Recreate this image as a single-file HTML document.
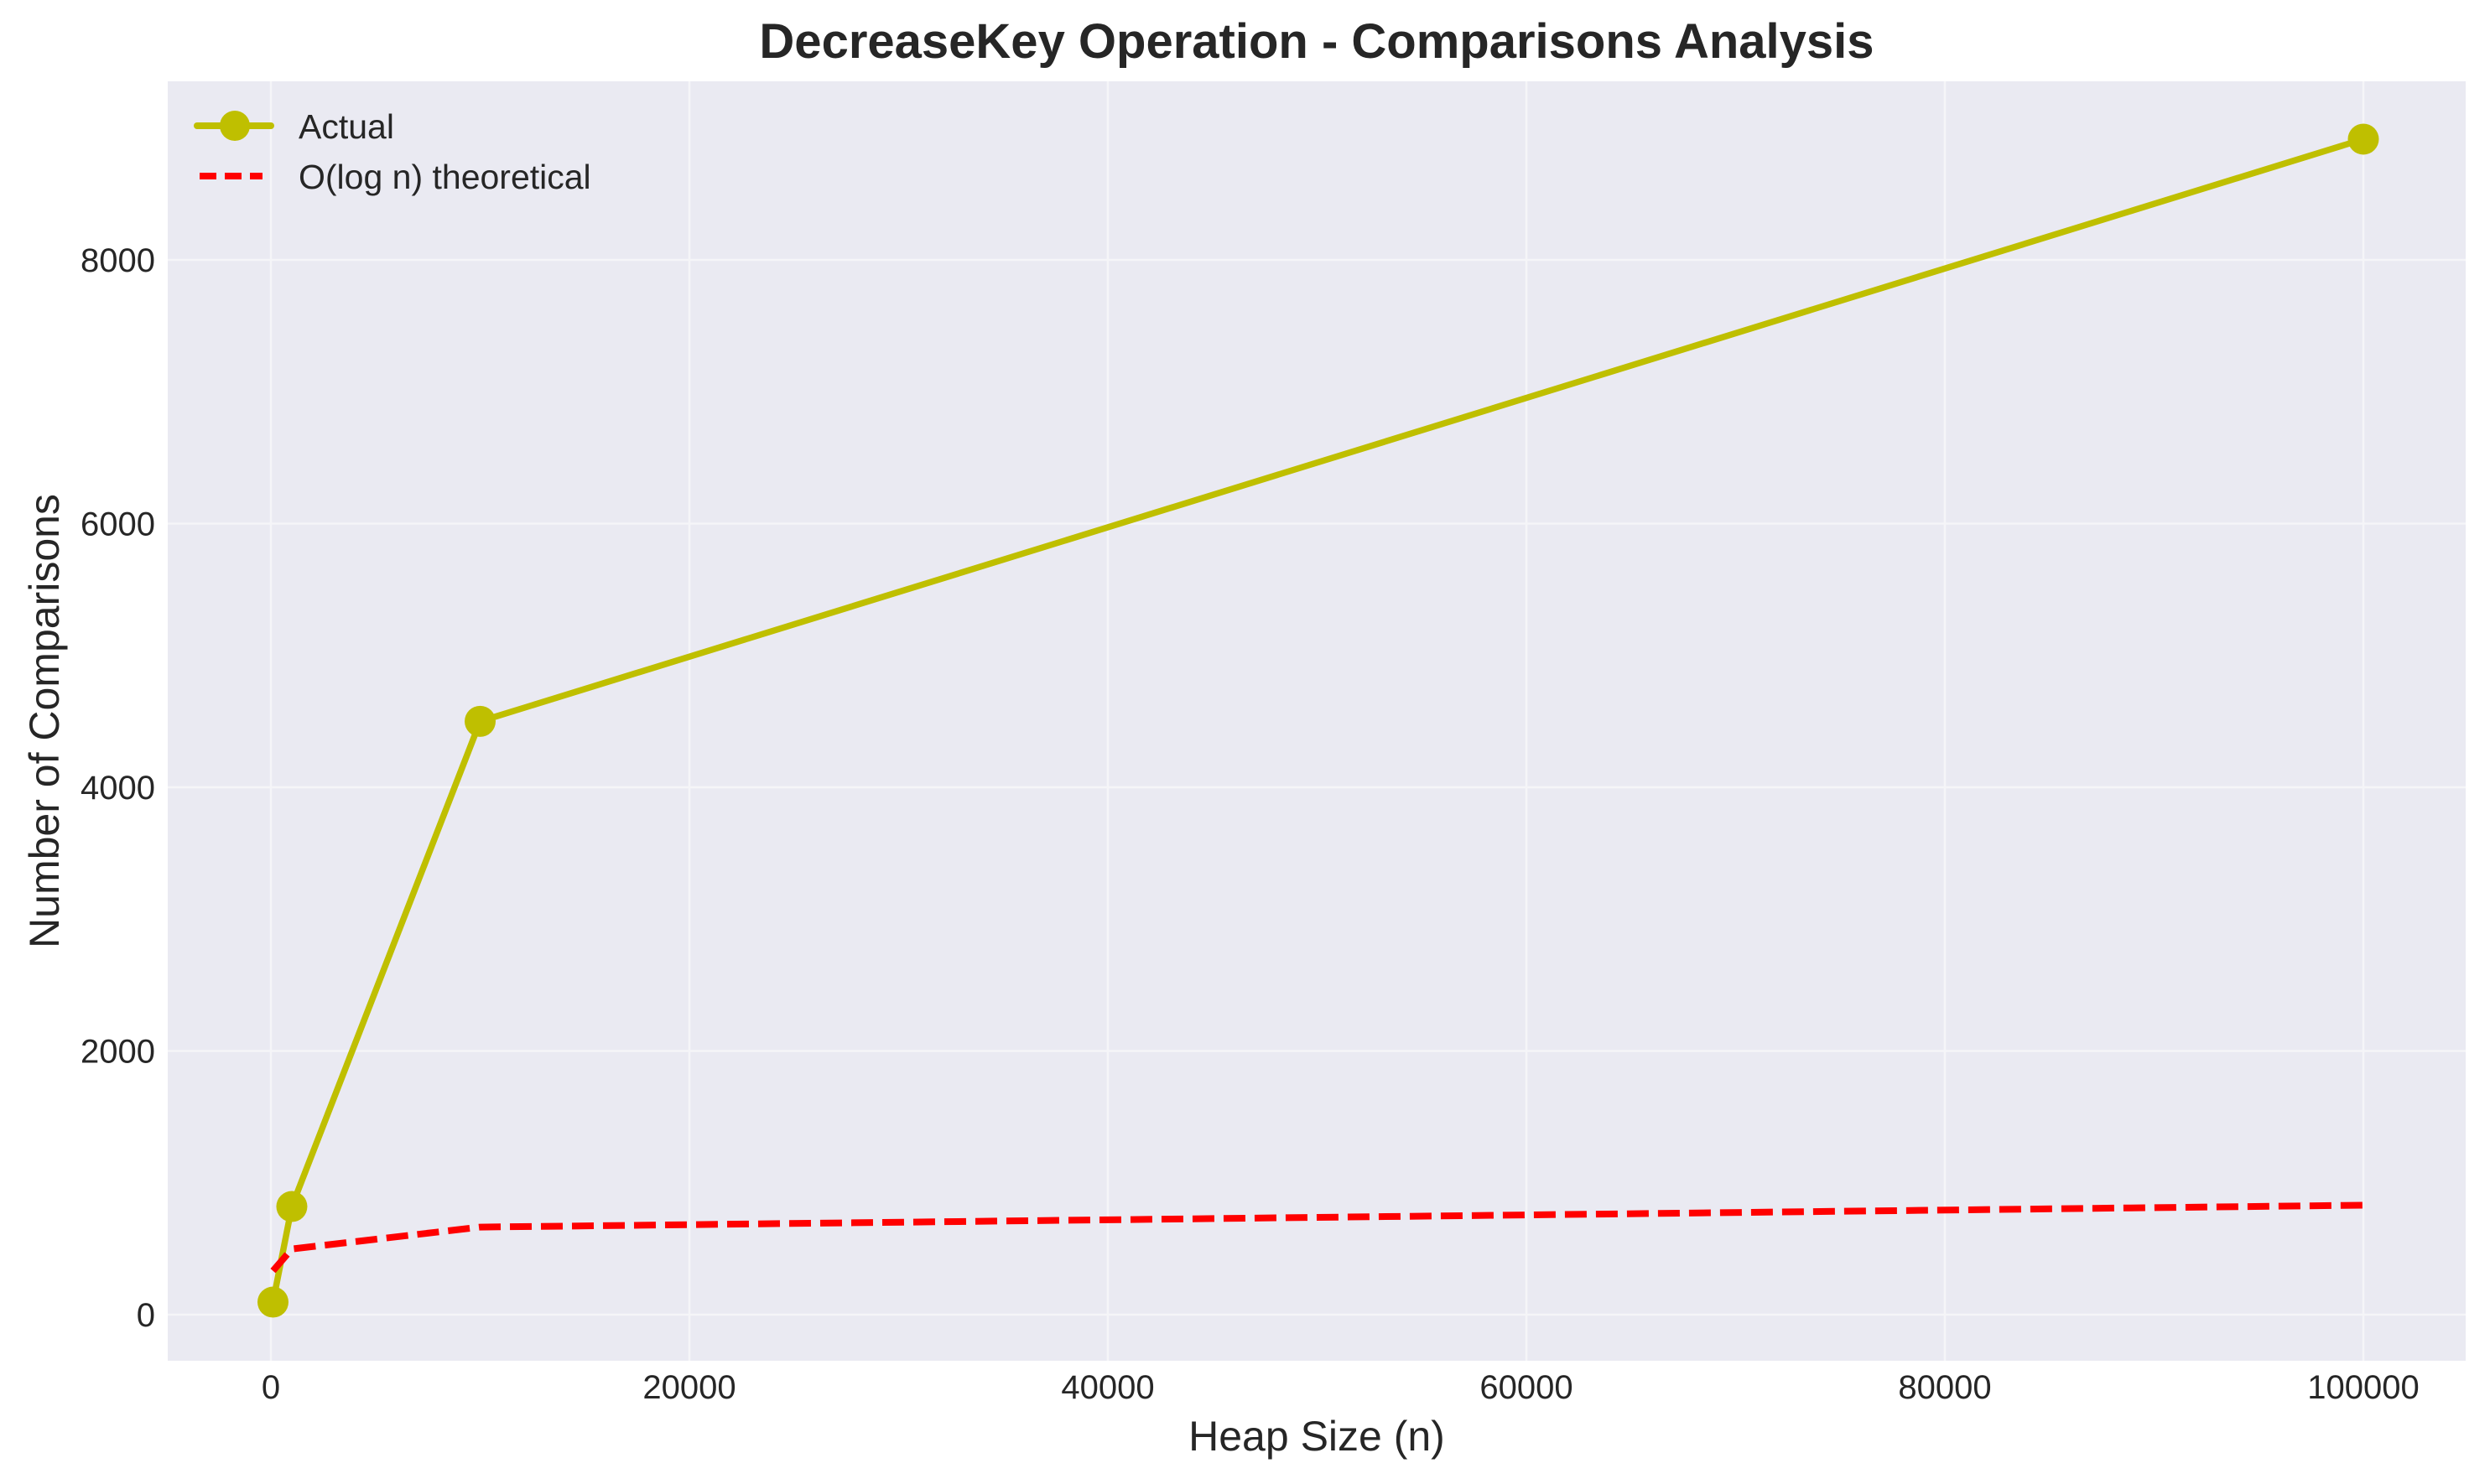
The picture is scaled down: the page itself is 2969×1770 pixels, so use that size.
<!DOCTYPE html>
<html><head><meta charset="utf-8"><style>
body{margin:0;background:#fff;}
svg{display:block;font-family:"Liberation Sans",Arial,sans-serif;}
</style></head><body>
<svg id="chart" width="2969" height="1770" viewBox="0 0 2969 1770">
<rect x="0" y="0" width="2969" height="1770" fill="#fff"/>
<rect x="200" y="97" width="2740" height="1526" fill="#eaeaf2"/>
<g id="grid"></g>
<g id="ticks"></g>
<g id="series"></g>
<text x="1570" y="69" text-anchor="middle" font-size="58" font-weight="bold" fill="#262626">DecreaseKey Operation - Comparisons Analysis</text>
<text x="1570" y="1730" text-anchor="middle" font-size="50" fill="#262626">Heap Size (n)</text>
<text transform="translate(70,860) rotate(-90)" text-anchor="middle" font-size="50" fill="#262626">Number of Comparisons</text>
<g>
<line x1="235" y1="150" x2="323" y2="150" stroke="#bfbf00" stroke-width="8" stroke-linecap="round"/>
<circle cx="280" cy="150" r="18" fill="#bfbf00"/>
<text x="356" y="165" font-size="41" fill="#262626">Actual</text>
<line x1="238" y1="210" x2="313" y2="210" stroke="#ff0000" stroke-width="8" stroke-dasharray="20,10"/>
<text x="356" y="225" font-size="41" fill="#262626">O(log n) theoretical</text>
</g>
</svg>
<script>
const heapSizes=[100,1000,10000,100000];
const actualValues=[95,820,4500,8916];
const theoreticalValues=[332,498,664,830];
const xTicks=[0,20000,40000,60000,80000,100000];
const yTicks=[0,2000,4000,6000,8000];
const NS='http://www.w3.org/2000/svg';
function sx(v){return 323+v*0.02495;}
function sy(v){return 1568-v*0.15725;}
function mk(tag,attrs,parent){const e=document.createElementNS(NS,tag);for(const k in attrs)e.setAttribute(k,attrs[k]);parent.appendChild(e);return e;}
const grid=document.getElementById('grid'),ticks=document.getElementById('ticks'),series=document.getElementById('series');
xTicks.forEach(t=>{
 const g=mk('line',{x1:sx(t),x2:sx(t),y1:97,y2:1623,stroke:'#f5f5f8','stroke-width':2.5},grid);
 
 
 const l=mk('text',{x:sx(t),y:1668,'text-anchor':'middle','font-size':40,fill:'#262626'},ticks);
 l.textContent=t;
 
 
});
yTicks.forEach(t=>{
 const g=mk('line',{x1:200,x2:2940,y1:sy(t),y2:sy(t),stroke:'#f5f5f8','stroke-width':2.5},grid);
 
 
 const l=mk('text',{x:185,y:sy(t)+14,'text-anchor':'end','font-size':40,fill:'#262626'},ticks);
 l.textContent=t;
 
 
});
const ap=heapSizes.map((n,i)=>sx(n)+','+sy(actualValues[i])).join(' ');
const al=mk('polyline',{points:ap,fill:'none',stroke:'#bfbf00','stroke-width':7.5,'stroke-linejoin':'round'},series);


heapSizes.forEach((n,i)=>{
 const c=mk('circle',{cx:sx(n),cy:sy(actualValues[i]),r:18.5,fill:'#bfbf00'},series);
 
 
});
const tp=heapSizes.map((n,i)=>sx(n)+','+sy(theoreticalValues[i])).join(' ');
const tl=mk('polyline',{points:tp,fill:'none',stroke:'#ff0000','stroke-width':8,'stroke-dasharray':'26,11'},series);


</script>
</body></html>
